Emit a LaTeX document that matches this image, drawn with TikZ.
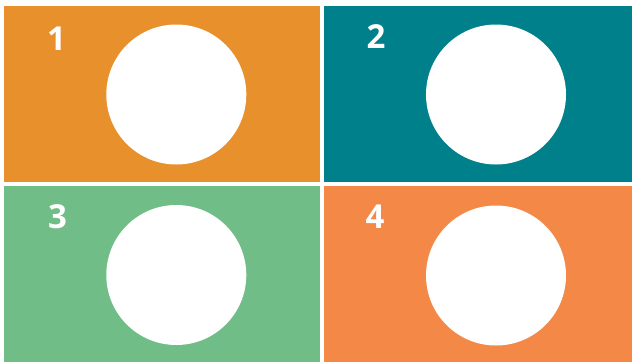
\documentclass[tikz,border=0pt]{standalone}
\usepackage{fontspec}
\setmainfont{Open Sans}
\definecolor{cA}{RGB}{232,144,44}
\definecolor{cB}{RGB}{0,128,138}
\definecolor{cC}{RGB}{113,189,136}
\definecolor{cD}{RGB}{243,136,71}
\begin{document}
\begin{tikzpicture}[x=1pt,y=-1pt,
  panel/.style={inner sep=0pt,outer sep=0pt},
  hole/.style={circle,fill=white,minimum size=140pt,inner sep=0pt},
  num/.style={text=white,font=\fontsize{33}{33}\selectfont\bfseries,inner sep=0pt,anchor=center}]
\useasboundingbox (0,0) rectangle (632,362);
\fill[white] (0,0) rectangle (632,362);
\fill[cA] (4,6) rectangle (320,182);
\fill[cB] (324,6) rectangle (632,182);
\fill[cC] (4,186) rectangle (320,362);
\fill[cD] (324,186) rectangle (632,362);
\node[hole] (h1) at (176.3,94.5) {};
\node[hole] (h2) at (496,94.5) {};
\node[hole] (h3) at (176.3,275) {};
\node[hole] (h4) at (496,275.5) {};
\node[num] (n1) at (56.5,38.5) {1};
\node[num] (n2) at (376,37) {2};
\node[num] (n3) at (57.5,217) {3};
\node[num] (n4) at (375,217) {4};
\end{tikzpicture}
\end{document}
